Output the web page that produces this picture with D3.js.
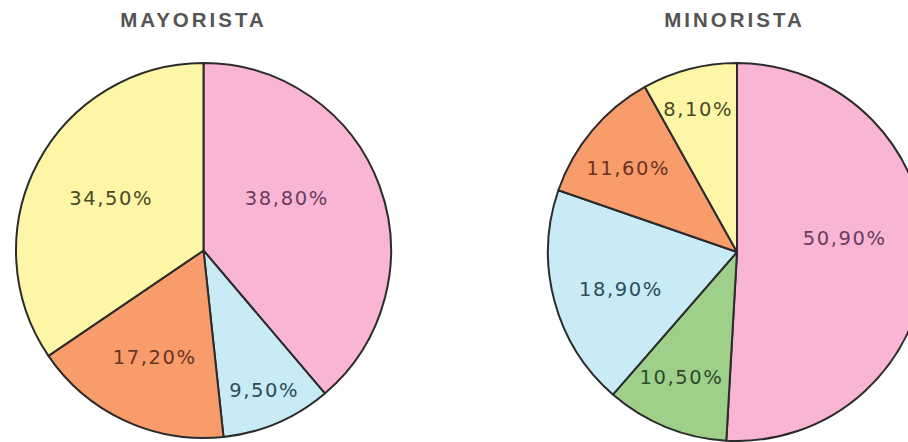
<!DOCTYPE html>
<html><head><meta charset="utf-8">
<script src="https://cdn.jsdelivr.net/npm/d3@7"></script>
<style>
html,body{margin:0;padding:0;background:#fff;}
svg{display:block;}
</style></head>
<body>
<svg id="chart" width="908" height="442"></svg>
<script>
// Data
const titles = ["MAYORISTA", "MINORISTA"];
const mayoristaLabels = ["38,80%", "9,50%", "17,20%", "34,50%"];
const mayoristaValues = [38.8, 9.5, 17.2, 34.5];
const mayoristaColors = ["#f9b6d4", "#c8ebf5", "#f99c6c", "#fdf6a6"];
const minoristaLabels = ["50,90%", "10,50%", "18,90%", "11,60%", "8,10%"];
const minoristaValues = [50.9, 10.5, 18.9, 11.6, 8.1];
const minoristaColors = ["#f9b6d4", "#9fd08a", "#c8ebf5", "#f99c6c", "#fdf6a6"];

// Layout (label radius as fraction of r, angle nudge in degrees)
const layout = [
  {cx: 203.5, cy: 250.5, r: 187.5, titleX: 192, lr: [0.52, 0.81, 0.63, 0.57], la: [-12, 0, 0, 1.5]},
  {cx: 737, cy: 252, r: 189, titleX: 733, lr: [0.57, 0.73, 0.65, 0.73, 0.78], la: [-9, 2, -3, -2.5, -1]}
];
const labelColor = {"#f9b6d4": "#6a3c5c", "#c8ebf5": "#2e4b5a", "#f99c6c": "#6a3322", "#fdf6a6": "#4a4a26", "#9fd08a": "#2d4a2a"};
const LS = 1.6;

const svg = d3.select("#chart");
const datasets = [
  {values: mayoristaValues, labels: mayoristaLabels, colors: mayoristaColors},
  {values: minoristaValues, labels: minoristaLabels, colors: minoristaColors}
];

datasets.forEach((ds, i) => {
  const L = layout[i];
  const pie = d3.pie().sort(null).value(d => d)(ds.values);
  const arc = d3.arc().innerRadius(0).outerRadius(L.r);
  const g = svg.append("g").attr("transform", `translate(${L.cx},${L.cy})`);
  g.selectAll("path").data(pie).join("path")
    .attr("d", arc)
    .attr("fill", (d, j) => ds.colors[j])
    .attr("stroke", "#2b2b2b")
    .attr("stroke-width", 2)
    .attr("stroke-linejoin", "round");
  g.selectAll("text").data(pie).join("text")
    .attr("transform", (d, j) => {
      const a = (d.startAngle + d.endAngle) / 2 + L.la[j] * Math.PI / 180;
      const rr = L.r * L.lr[j];
      return `translate(${rr * Math.sin(a) + LS / 2},${-rr * Math.cos(a)})`;
    })
    .attr("text-anchor", "middle")
    .attr("dominant-baseline", "central")
    .attr("font-family", "'DejaVu Sans', sans-serif")
    .attr("font-size", 19.5)
    .attr("letter-spacing", LS)
    .attr("fill", (d, j) => labelColor[ds.colors[j]])
    .text((d, j) => ds.labels[j]);
  svg.append("text")
    .attr("x", L.titleX + 1.5).attr("y", 27)
    .attr("text-anchor", "middle")
    .attr("font-family", "'Liberation Sans', Arial, sans-serif")
    .attr("font-weight", "bold")
    .attr("font-size", 20.5)
    .attr("letter-spacing", 3)
    .attr("fill", "#555")
    .text(titles[i]);
});
</script>
</body></html>
